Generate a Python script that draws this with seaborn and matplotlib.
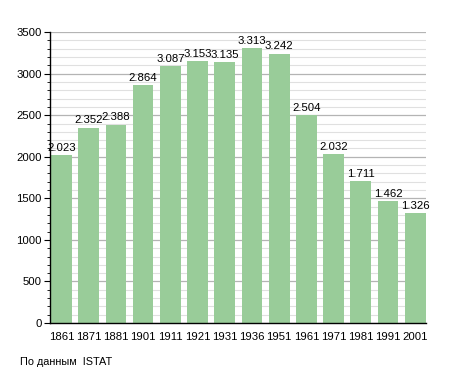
import matplotlib
matplotlib.use('Agg')
import matplotlib.pyplot as plt
import seaborn as sns
from matplotlib.ticker import MultipleLocator

years = ['1861', '1871', '1881', '1901', '1911', '1921', '1931', '1936',
         '1951', '1961', '1971', '1981', '1991', '2001']
population = [2023, 2352, 2388, 2864, 3087, 3153, 3135, 3313,
              3242, 2504, 2032, 1711, 1462, 1326]

sns.set_style('white')
plt.rcParams['font.family'] = ['Liberation Sans', 'DejaVu Sans']
plt.rcParams['text.color'] = 'black'
plt.rcParams['xtick.color'] = 'black'
plt.rcParams['ytick.color'] = 'black'

fig = plt.figure(figsize=(4.55, 3.73), dpi=100)
ax = fig.add_axes([0.110, 0.134, 0.826, 0.780])

ax.yaxis.set_major_locator(MultipleLocator(500))
ax.yaxis.set_minor_locator(MultipleLocator(100))
ax.grid(axis='y', which='major', color='#b4b4b4', linewidth=0.9, zorder=0)
ax.grid(axis='y', which='minor', color='#e0e0e0', linewidth=0.8, zorder=0)
ax.set_axisbelow(True)

sns.barplot(x=years, y=population, color='#99cc99', saturation=1,
            width=0.76, linewidth=0, ax=ax, zorder=2)

for i, v in enumerate(population):
    ax.text(i, v + 25, f'{v:,}'.replace(',', '.'), ha='center', va='bottom',
            fontsize=8.2)

ax.set_ylim(0, 3500)
ax.set_xlim(-0.42, 13.39)
ax.set_xlabel('')
ax.set_ylabel('')
for s in ['top', 'right']:
    ax.spines[s].set_visible(False)
ax.spines['left'].set_color('black')
ax.spines['bottom'].set_color('black')
ax.spines['left'].set_linewidth(1.0)
ax.spines['bottom'].set_linewidth(1.0)
ax.tick_params(axis='y', which='major', left=True, length=4, width=0.8,
               labelsize=8.2, pad=2)
ax.tick_params(axis='y', which='minor', left=True, length=2, width=0.6)
ax.tick_params(axis='x', bottom=False, labelsize=8.2, pad=3)

fig.text(20 / 455, 1 - 362 / 373, 'По данным  ISTAT', fontsize=7.8,
         ha='left', va='center')

fig.savefig('out.png', dpi=100)
